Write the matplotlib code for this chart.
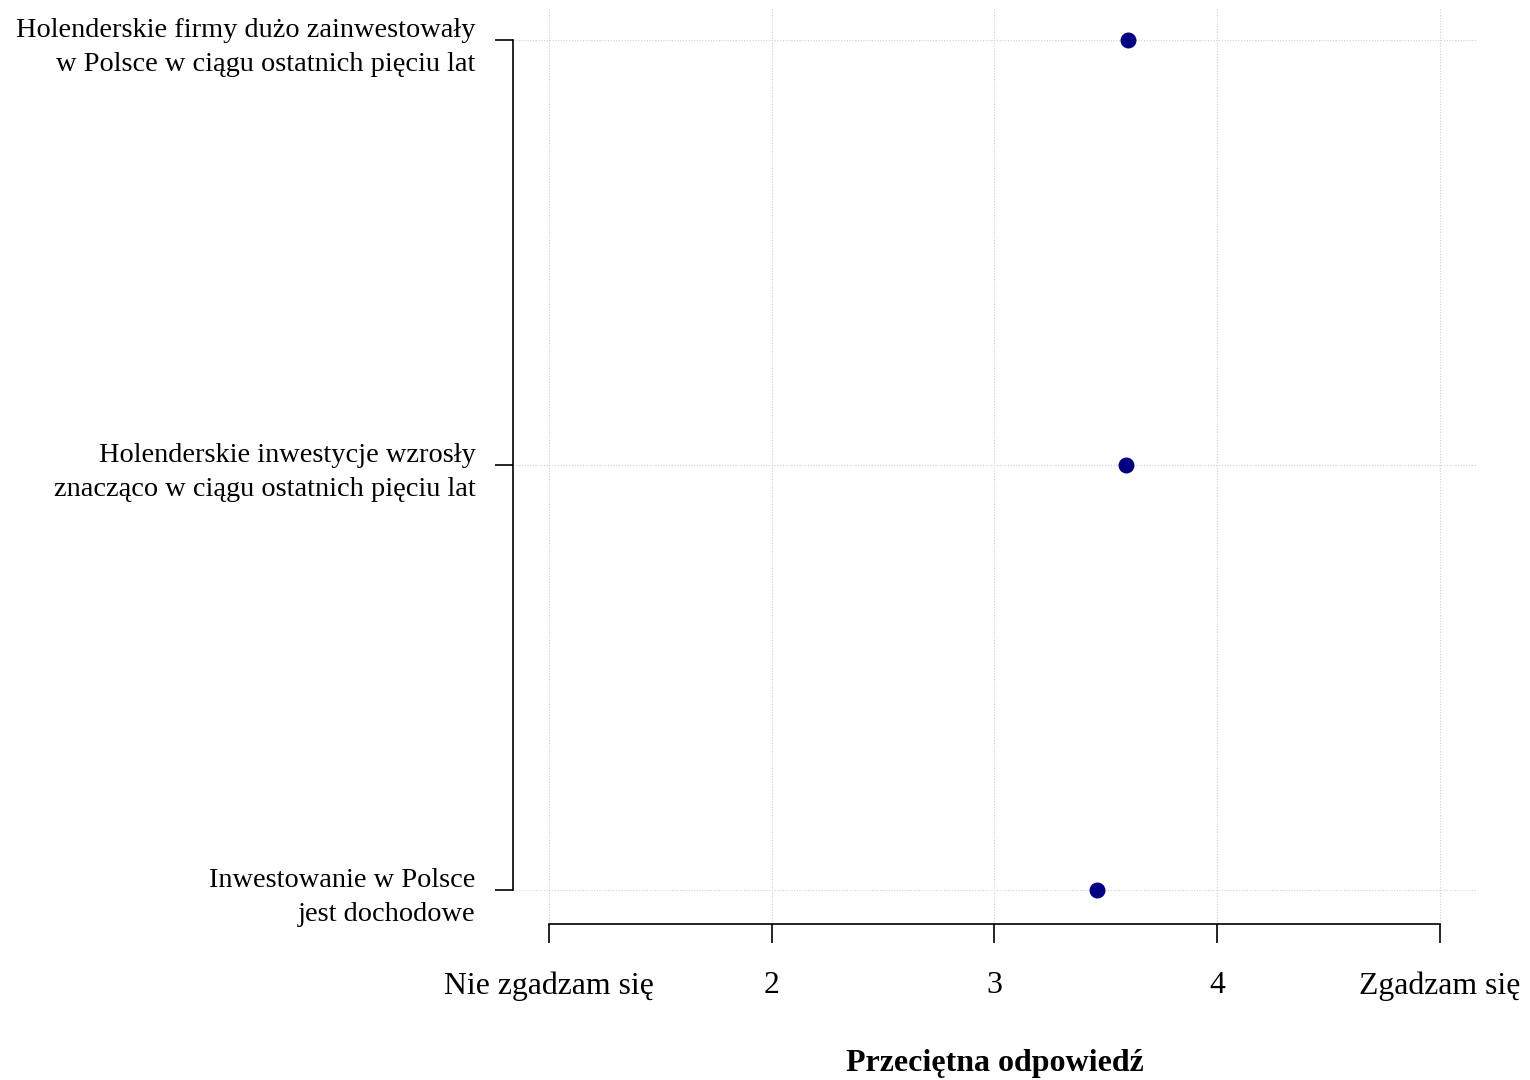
import matplotlib
matplotlib.use("Agg")
import matplotlib.pyplot as plt
import numpy as np

plt.rcParams['font.family'] = ['Liberation Serif', 'DejaVu Serif']

# data (top to bottom)
statements = [
    "Holenderskie firmy dużo zainwestowały\nw Polsce w ciągu ostatnich pięciu lat",
    "Holenderskie inwestycje wzrosły\nznacząco w ciągu ostatnich pięciu lat",
    "Inwestowanie w Polsce\njest dochodowe",
]
mean_answer = [3.60, 3.59, 3.46]
x_ticks = [1, 2, 3, 4, 5]
x_ticklabels = ["Nie zgadzam się", "2", "3", "4", "Zgadzam się"]

fig = plt.figure(figsize=(15.3, 10.8), dpi=100)
ax = fig.add_axes([513 / 1530, 1 - 924 / 1080, (1477 - 513) / 1530, (924 - 8) / 1080])

ypos = np.arange(len(statements))[::-1] + 1

# grid
for xt in x_ticks:
    ax.axvline(xt, color='#d0d0d0', lw=0.8, ls=(0, (1, 1.5)), zorder=0)
for y in ypos:
    ax.axhline(y, color='#d0d0d0', lw=0.8, ls=(0, (1, 1.5)), zorder=0)

ax.scatter(mean_answer, ypos, s=110, color='#000080', zorder=3)

ax.set_xlim(1 - 36 / 222.75, 5 + 37 / 222.75)
ax.set_ylim(1 - 34 / 425, 3 + 32 / 425)

for s in ['top', 'right']:
    ax.spines[s].set_visible(False)
ax.spines['left'].set_bounds(1, 3)
ax.spines['bottom'].set_bounds(1, 5)
ax.spines['left'].set_linewidth(1.2)
ax.spines['bottom'].set_linewidth(1.2)

ax.set_yticks(ypos)
ax.set_yticklabels(statements, fontsize=20.4, linespacing=1.45)
for lbl in ax.get_yticklabels():
    lbl.set_y(lbl.get_position()[1])
    lbl.set_va('center_baseline')
ax.set_xticks(x_ticks)
ax.set_xticklabels(x_ticklabels, fontsize=22.9)
ax.tick_params(axis='y', length=13, width=1.2, pad=14)
ax.tick_params(axis='x', length=14, width=1.2, pad=20)

ax.set_xlabel("Przeciętna odpowiedź", fontsize=23, fontweight='bold', labelpad=35)

fig.savefig("out.png", dpi=100)
